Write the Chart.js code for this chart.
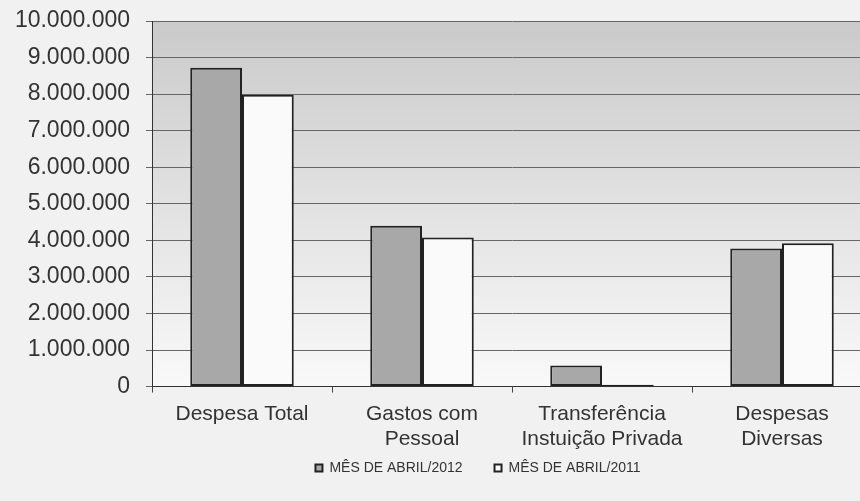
<!DOCTYPE html>
<html>
<head>
<meta charset="utf-8">
<script src="https://cdn.jsdelivr.net/npm/chart.js@4"></script>
<style>
  html, body { margin: 0; padding: 0; overflow: hidden; background: #f1f1f1; }
  #wrap { position: relative; width: 956px; height: 501px; }
</style>
</head>
<body>
<div id="wrap"><canvas id="despesasChart"></canvas></div>
<script>
// Categorias e valores
const categorias = [
  ['Despesa Total'],
  ['Gastos com', 'Pessoal'],
  ['Transferência', 'Instuição Privada'],
  ['Despesas', 'Diversas']
];
const abril2012 = [8720000, 4400000, 575000, 3780000];
const abril2011 = [7980000, 4080000, 50000, 3920000];
const yTicks = [0, 1000000, 2000000, 3000000, 4000000, 5000000, 6000000, 7000000, 8000000, 9000000, 10000000];

function formatBR(v) {
  return String(v).replace(/\B(?=(\d{3})+(?!\d))/g, '.');
}

// let tick labels spill outside the axis box
function noLabelClip(axis) {
  axis._computeLabelArea = () => undefined;
}

// Fundo em degradê da área de plotagem
const plotBackground = {
  id: 'plotBackground',
  beforeDraw(chart) {
    const { ctx, chartArea } = chart;
    if (!chartArea) return;
    const g = ctx.createLinearGradient(0, chartArea.top, 0, chartArea.bottom);
    g.addColorStop(0, '#cacaca');
    g.addColorStop(1, '#f9f9f9');
    ctx.save();
    ctx.fillStyle = g;
    ctx.fillRect(chartArea.left, chartArea.top, chartArea.right - chartArea.left, chartArea.bottom - chartArea.top);
    ctx.restore();
  }
};

window.addEventListener('DOMContentLoaded', () => {
  const ctx = document.getElementById('despesasChart').getContext('2d');
  new Chart(ctx, {
    type: 'bar',
    data: {
      labels: categorias,
      datasets: [{
        label: 'MÊS DE ABRIL/2012',
        data: abril2012,
        backgroundColor: '#a8a8a8',
        borderColor: '#222222',
        borderWidth: 2,
        borderSkipped: false
      }, {
        label: 'MÊS DE ABRIL/2011',
        data: abril2011,
        backgroundColor: '#fafafa',
        borderColor: '#222222',
        borderWidth: 2,
        borderSkipped: false
      }]
    },
    options: {
      responsive: true,
      maintainAspectRatio: false,
      animation: false,
      layout: { padding: { top: 21, right: 84, left: 84, bottom: 16 } },
      datasets: { bar: { barPercentage: 1.0, categoryPercentage: 0.575 } },
      plugins: {
        tooltip: { enabled: false },
        legend: {
          position: 'bottom',
          labels: {
            color: '#333333',
            boxWidth: 7,
            boxHeight: 7,
            padding: 32,
            font: { family: 'Liberation Sans, Arial, sans-serif', size: 14 }
          }
        }
      },
      scales: {
        x: {
          grid: { drawOnChartArea: false, drawTicks: true, tickLength: 6, color: '#444444' },
          border: { color: '#333333', width: 1 },
          afterFit(axis) { axis.height -= 32; noLabelClip(axis); },
          ticks: {
            color: '#333333',
            padding: 9,
            font: { family: 'Liberation Sans, Arial, sans-serif', size: 21, lineHeight: 1.2 },
            maxRotation: 0
          }
        },
        y: {
          min: 0,
          max: 10000000,
          afterBuildTicks(axis) { axis.ticks = yTicks.map(v => ({ value: v })); },
          afterFit(axis) { axis.width = 68; axis.paddingTop = 0; noLabelClip(axis); },
          grid: { color: '#666666', lineWidth: 1, tickLength: 6 },
          border: { color: '#333333', width: 1 },
          ticks: {
            color: '#333333',
            padding: 16,
            font: { family: 'Liberation Sans, Arial, sans-serif', size: 23 },
            callback: (v) => formatBR(v)
          }
        }
      }
    },
    plugins: [plotBackground]
  });
});
</script>
</body>
</html>
